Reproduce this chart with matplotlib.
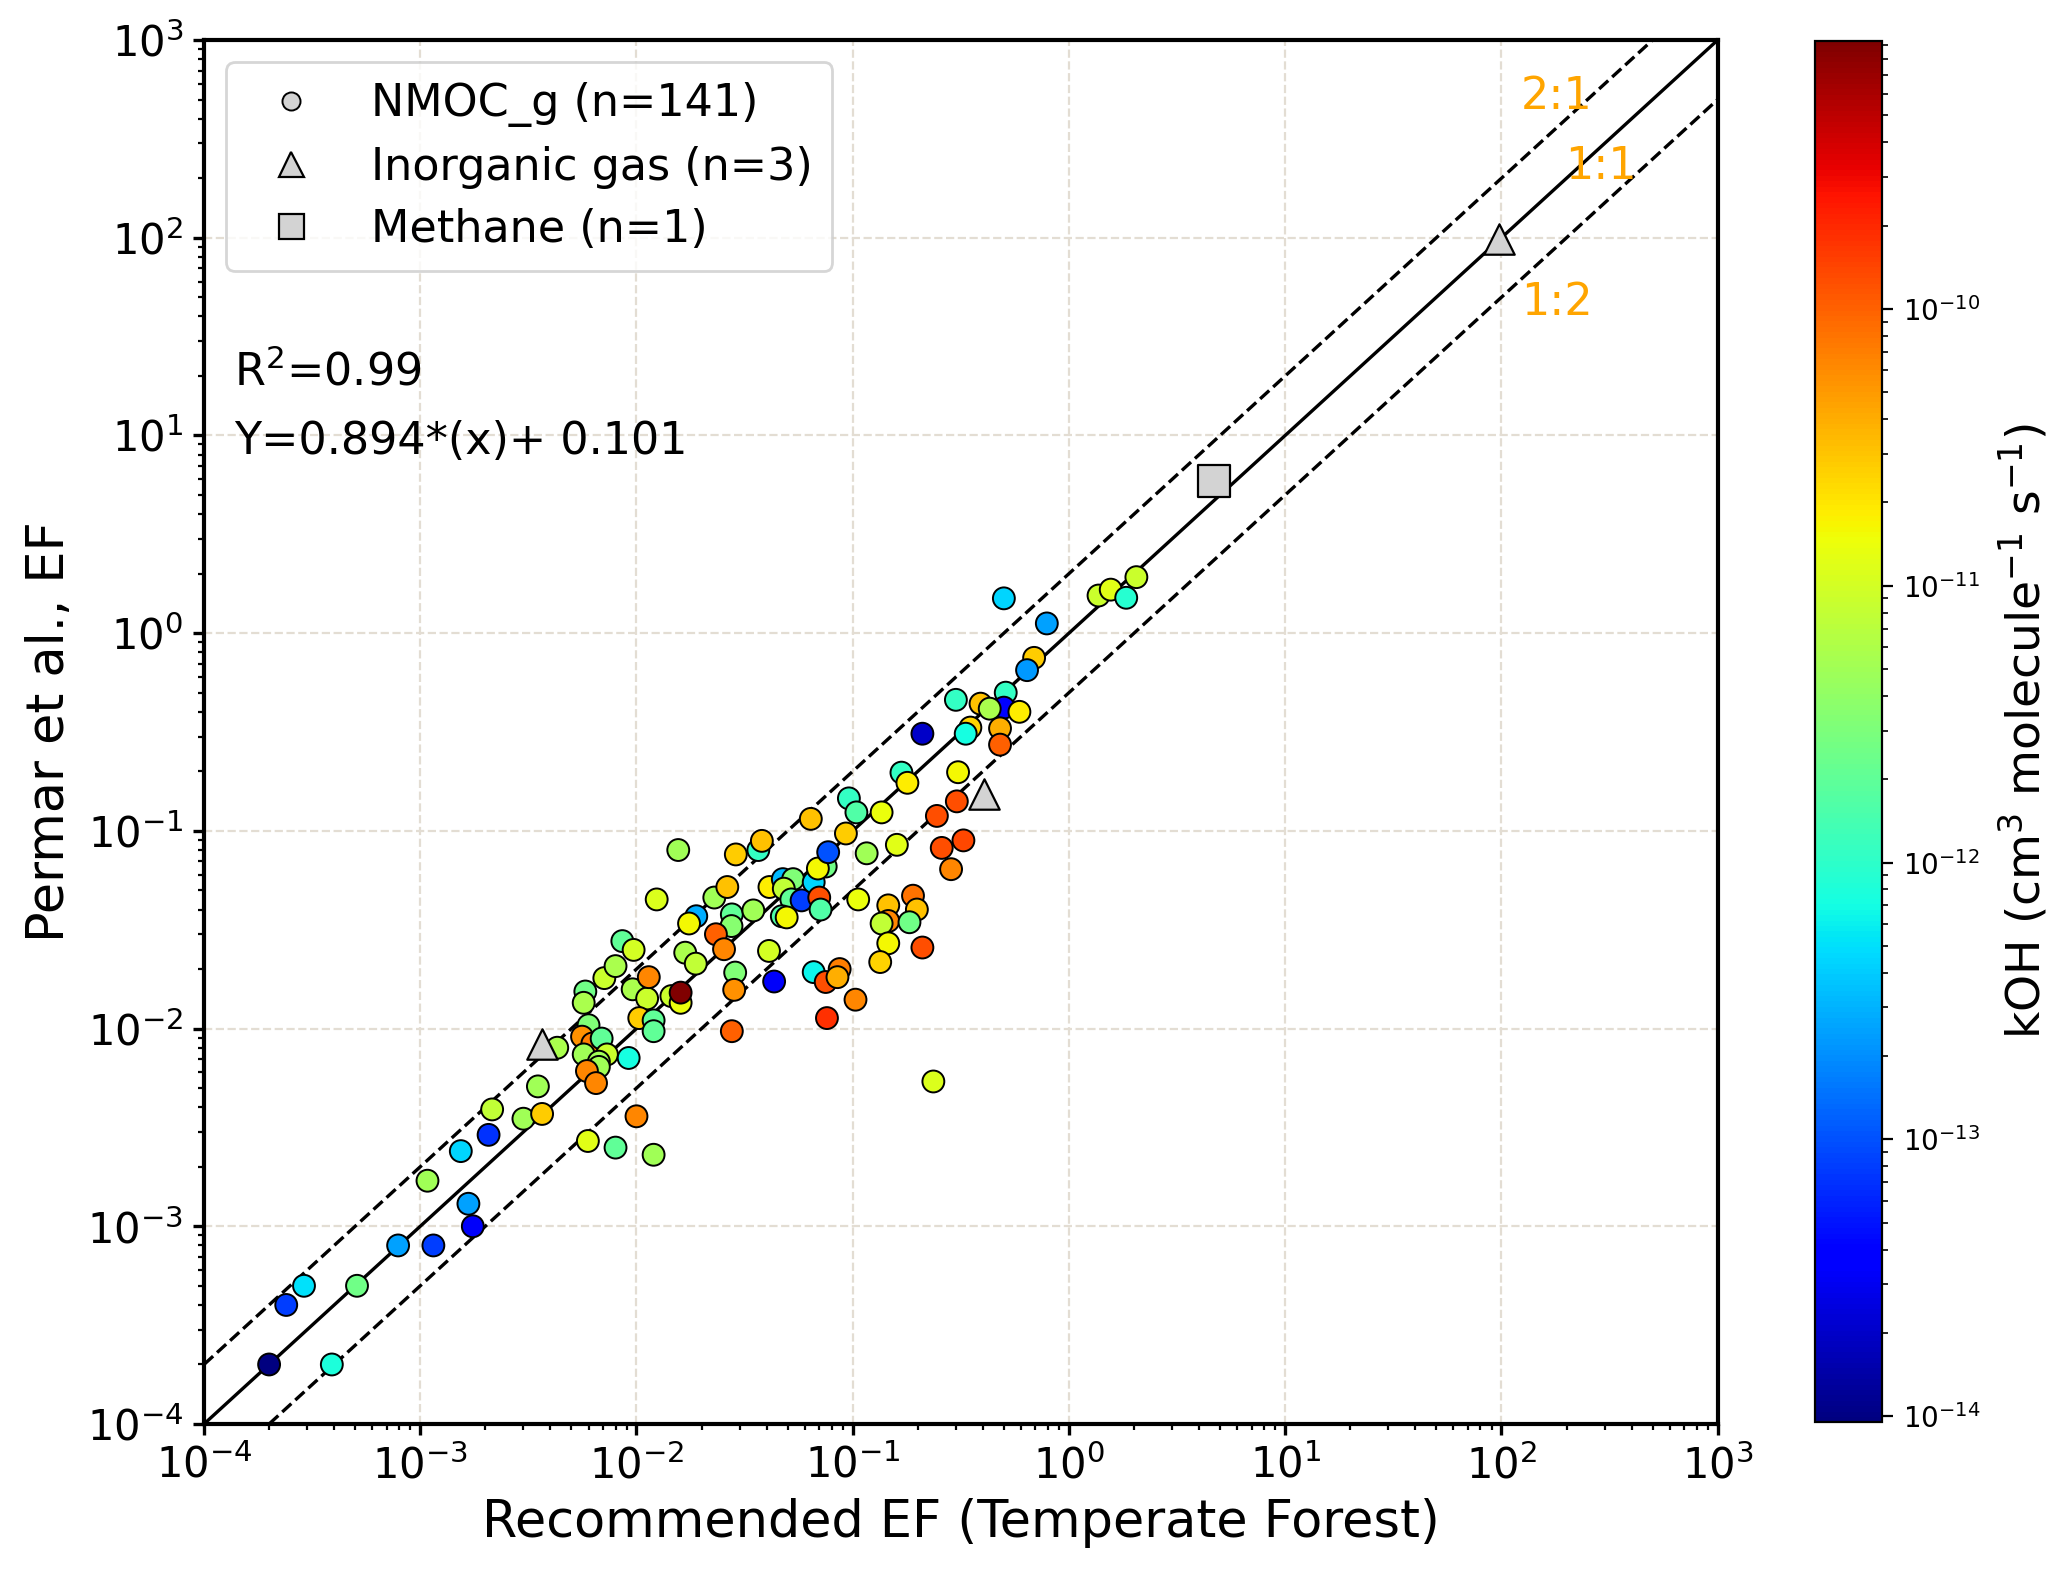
import numpy as np
import matplotlib
matplotlib.use("Agg")
import matplotlib.pyplot as plt
from matplotlib.colors import LogNorm
from matplotlib.lines import Line2D

# --------- DATA --------------------------------
# NMOC_g: recommended EF (x), Permar et al. EF (y), kOH (colour)
nmoc_x = [2.0e-4, 3.9e-4, 2.4e-4, 2.9e-4, 5.1e-4, 7.9e-4, 1.15e-3, 1.67e-3, 1.75e-3, 1.08e-3,
          1.54e-3, 2.07e-3, 2.15e-3, 3.0e-3, 3.66e-3, 3.5e-3, 5.96e-3, 8.0e-3, 1.2e-2, 1.0e-2,
          4.3e-3, 6.0e-3, 5.6e-3, 6.25e-3, 6.9e-3, 5.7e-3, 7.3e-3, 6.7e-3, 6.7e-3, 5.9e-3,
          6.5e-3, 9.2e-3, 5.8e-3, 5.7e-3, 7.1e-3, 8.0e-3, 8.6e-3, 9.7e-3, 9.6e-3, 1.12e-2,
          1.14e-2, 1.03e-2, 1.2e-2, 1.2e-2, 1.56e-2, 1.24e-2, 1.45e-2, 1.6e-2, 1.6e-2, 1.68e-2,
          1.88e-2, 1.89e-2, 1.75e-2, 2.29e-2, 2.63e-2, 2.76e-2, 2.75e-2, 2.33e-2, 2.54e-2, 2.86e-2,
          2.83e-2, 2.76e-2, 2.88e-2, 3.66e-2, 3.8e-2, 3.47e-2, 4.1e-2, 4.33e-2, 4.12e-2, 4.75e-2,
          5.3e-2, 4.8e-2, 5.2e-2, 5.8e-2, 4.7e-2, 4.95e-2, 6.6e-2, 7.5e-2, 6.9e-2, 7.7e-2,
          7.0e-2, 7.1e-2, 6.6e-2, 7.5e-2, 8.7e-2, 8.5e-2, 0.103, 7.6e-2, 6.4e-2, 9.3e-2,
          9.6e-2, 0.104, 0.136, 0.116, 0.106, 0.146, 0.146, 0.136, 0.146, 0.134,
          0.16, 0.168, 0.179, 0.307, 0.303, 0.245, 0.325, 0.258, 0.285, 0.19,
          0.198, 0.183, 0.21, 0.236, 0.50, 0.79, 0.69, 0.64, 0.51, 0.50,
          0.39, 0.43, 0.59, 0.30, 0.21, 0.35, 0.333, 0.48, 0.48, 2.05,
          1.37, 1.56, 1.84]
nmoc_y = [2.0e-4, 2.0e-4, 4.0e-4, 5.0e-4, 5.0e-4, 8.0e-4, 8.0e-4, 1.3e-3, 1.0e-3, 1.7e-3,
          2.4e-3, 2.9e-3, 3.9e-3, 3.5e-3, 3.7e-3, 5.1e-3, 2.7e-3, 2.5e-3, 2.3e-3, 3.6e-3,
          8.0e-3, 1.04e-2, 9.1e-3, 8.4e-3, 8.9e-3, 7.4e-3, 7.4e-3, 6.8e-3, 6.4e-3, 6.1e-3,
          5.3e-3, 7.1e-3, 1.54e-2, 1.35e-2, 1.8e-2, 2.07e-2, 2.77e-2, 2.5e-2, 1.58e-2, 1.42e-2,
          1.82e-2, 1.13e-2, 1.1e-2, 9.7e-3, 8.0e-2, 4.5e-2, 1.46e-2, 1.35e-2, 1.52e-2, 2.42e-2,
          2.13e-2, 3.7e-2, 3.4e-2, 4.6e-2, 5.2e-2, 3.78e-2, 3.3e-2, 3.0e-2, 2.52e-2, 1.92e-2,
          1.57e-2, 9.7e-3, 7.6e-2, 8.0e-2, 8.9e-2, 3.96e-2, 2.47e-2, 1.73e-2, 5.2e-2, 5.7e-2,
          5.7e-2, 5.1e-2, 4.5e-2, 4.45e-2, 3.7e-2, 3.65e-2, 5.5e-2, 6.6e-2, 6.45e-2, 7.8e-2,
          4.6e-2, 4.0e-2, 1.93e-2, 1.72e-2, 2.0e-2, 1.82e-2, 1.4e-2, 1.13e-2, 0.115, 9.7e-2,
          0.146, 0.124, 0.124, 7.7e-2, 4.5e-2, 4.2e-2, 3.5e-2, 3.4e-2, 2.7e-2, 2.17e-2,
          8.5e-2, 0.197, 0.175, 0.198, 0.141, 0.119, 8.95e-2, 8.2e-2, 6.4e-2, 4.7e-2,
          4.0e-2, 3.45e-2, 2.57e-2, 5.4e-3, 1.5, 1.12, 0.75, 0.65, 0.50, 0.42,
          0.44, 0.415, 0.40, 0.46, 0.31, 0.333, 0.31, 0.33, 0.273, 1.92,
          1.55, 1.66, 1.51]
nmoc_koh = [9.5e-15, 7.9e-13, 7.9e-14, 5.0e-13, 2.5e-12, 2.5e-13, 7.9e-14, 2.5e-13, 3.2e-14, 5.0e-12,
            4.5e-13, 7.0e-14, 7.9e-12, 5.0e-12, 2.8e-11, 5.0e-12, 1.25e-11, 2.0e-12, 5.0e-12, 6.3e-11,
            5.6e-12, 3.2e-12, 5.6e-11, 7.1e-11, 2.0e-12, 5.0e-12, 8.9e-12, 5.0e-12, 5.0e-12, 6.3e-11,
            6.3e-11, 7.1e-13, 2.5e-12, 5.6e-12, 8.9e-12, 5.6e-12, 2.0e-12, 1.0e-11, 5.6e-12, 8.9e-12,
            6.3e-11, 2.8e-11, 2.0e-12, 2.0e-12, 5.0e-12, 1.1e-11, 8.9e-12, 1.4e-11, 9.3e-10, 5.6e-12,
            7.9e-12, 2.8e-13, 1.6e-11, 5.0e-12, 3.2e-11, 2.0e-12, 3.5e-12, 1.0e-10, 6.3e-11, 3.2e-12,
            5.6e-11, 1.0e-10, 2.8e-11, 1.1e-12, 3.2e-11, 5.0e-12, 1.0e-11, 3.2e-14, 1.8e-11, 3.2e-13,
            3.2e-12, 7.9e-12, 2.0e-12, 7.9e-14, 1.6e-12, 1.6e-11, 4.5e-13, 2.5e-12, 1.6e-11, 1.0e-13,
            1.25e-10, 1.6e-12, 6.3e-13, 1.25e-10, 7.1e-11, 4.0e-11, 6.3e-11, 1.8e-10, 3.2e-11, 2.8e-11,
            1.1e-12, 1.6e-12, 1.4e-11, 5.0e-12, 1.4e-11, 3.2e-11, 6.3e-11, 7.9e-12, 1.6e-11, 2.5e-11,
            1.25e-11, 1.1e-12, 1.8e-11, 1.6e-11, 1.25e-10, 1.25e-10, 1.4e-10, 1.25e-10, 6.3e-11, 7.9e-11,
            3.2e-11, 2.5e-12, 1.25e-10, 1.1e-11, 4.5e-13, 2.5e-13, 2.8e-11, 2.2e-13, 1.1e-12, 3.5e-14,
            3.2e-11, 5.6e-12, 1.8e-11, 1.1e-12, 2.0e-14, 2.5e-11, 7.1e-13, 4.0e-11, 1.0e-10, 8.9e-12,
            8.9e-12, 1.25e-11, 8.9e-13]

inorg_x = [3.67e-3, 0.406, 97.0]
inorg_y = [8.4e-3, 0.154, 98.0]

methane_x = [4.7]
methane_y = [5.9]

R2_TEXT = "R$^2$=0.99"
FIT_TEXT = "Y=0.894*(x)+ 0.101"
# -----------------------------------------------


def make_plot():
    fig = plt.figure(figsize=(10.335, 7.85), dpi=200)
    ax = fig.add_axes([0.0987, 0.093, 0.7323, 0.8815])
    cax = fig.add_axes([0.878, 0.094, 0.0324, 0.880])

    # reference lines
    ref = np.array([1e-4, 1e3])
    ax.plot(ref, ref, color='black', lw=1.2, zorder=2)
    ax.plot(ref, 2 * ref, color='black', lw=1.2, ls='--', zorder=2)
    ax.plot(ref, 0.5 * ref, color='black', lw=1.2, ls='--', zorder=2)

    sc = ax.scatter(nmoc_x, nmoc_y, c=nmoc_koh, cmap='jet', norm=LogNorm(),
                    s=62, edgecolors='black', linewidths=0.7, zorder=3)
    ax.scatter(inorg_x, inorg_y, marker='^', s=120, c='lightgrey',
               edgecolors='black', linewidths=0.8, zorder=4)
    ax.scatter(methane_x, methane_y, marker='s', s=130, c='lightgrey',
               edgecolors='black', linewidths=0.8, zorder=4)

    ax.set_xscale('log')
    ax.set_yscale('log')
    ax.set_xlim(1e-4, 1e3)
    ax.set_ylim(1e-4, 1e3)
    ax.grid(True, which='major', ls='--', color='#e3ddd3', lw=0.8, zorder=0)
    ax.set_axisbelow(True)
    for sp in ax.spines.values():
        sp.set_linewidth(1.5)
    ax.tick_params(axis='both', which='major', labelsize=15, width=1.2, length=4)
    ax.tick_params(axis='both', which='minor', width=0.8, length=2.2)

    ax.set_xlabel("Recommended EF (Temperate Forest)", fontsize=18.3)
    ax.set_ylabel("Permar et al., EF", fontsize=18.3)

    ax.text(180, 520, "2:1", color='orange', fontsize=16, ha='center', va='center')
    ax.text(290, 230, "1:1", color='orange', fontsize=16, ha='center', va='center')
    ax.text(180, 47, "1:2", color='orange', fontsize=16, ha='center', va='center')

    ax.text(0.02, 0.76, R2_TEXT, transform=ax.transAxes, fontsize=16, va='center')
    ax.text(0.02, 0.71, FIT_TEXT, transform=ax.transAxes, fontsize=16, va='center')

    handles = [
        Line2D([], [], ls='none', marker='o', ms=6.5, mfc='lightgrey', mec='black', mew=0.7),
        Line2D([], [], ls='none', marker='^', ms=9, mfc='lightgrey', mec='black', mew=0.8),
        Line2D([], [], ls='none', marker='s', ms=9, mfc='lightgrey', mec='black', mew=0.8),
    ]
    labels = ["NMOC_g (n=141)", "Inorganic gas (n=3)", "Methane (n=1)"]
    ax.legend(handles, labels, loc='upper left', fontsize=16, frameon=True,
              borderpad=0.45, labelspacing=0.42, handletextpad=0.8,
              bbox_to_anchor=(0.0, 1.0))

    cb = fig.colorbar(sc, cax=cax)
    cb.ax.tick_params(labelsize=10, which='major', length=4)
    cb.ax.tick_params(which='minor', length=2)
    cb.set_label("kOH (cm$^3$ molecule$^{-1}$ s$^{-1}$)", fontsize=17, labelpad=6)

    fig.savefig("out.png", dpi=200)


if __name__ == "__main__":
    make_plot()
